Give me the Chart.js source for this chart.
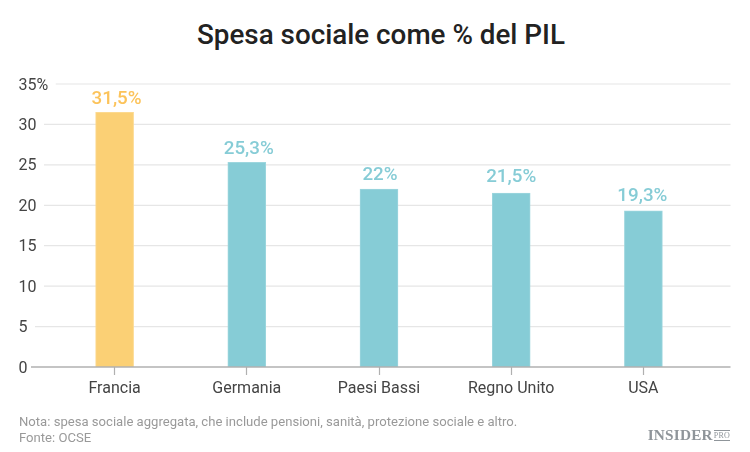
<!DOCTYPE html>
<html>
<head>
<meta charset="utf-8">
<script src="https://cdn.jsdelivr.net/npm/chart.js@4/dist/chart.umd.min.js"></script>
<style>
  html, body { margin: 0; padding: 0; background: #fff; }
  #wrap { position: relative; width: 750px; height: 452px; overflow: hidden; font-family: Roboto, sans-serif; }
  #wrap canvas { position: absolute; left: 0; top: 0; }
  #title { position: absolute; left: 12px; right: 0; top: 17px; text-align: center; font-size: 27.8px; font-weight: 500; line-height: 36px; color: #222; }
  #note { position: absolute; left: 19px; top: 413.5px; font-size: 13.1px; line-height: 16px; color: #999; }
  #logo { position: absolute; right: 20px; top: 426px; font-family: "Liberation Serif", serif; font-weight: 700; font-size: 15.3px; line-height: 18px; color: #8f959a; letter-spacing: 0.2px; }
  #logo span { font-size: 8px; font-weight: 400; border-top: 1px solid #8f959a; border-bottom: 1px solid #8f959a; margin-left: 1px; vertical-align: 2px; line-height: 9px; }
</style>
</head>
<body>
<div id="wrap">
  <div id="title">Spesa sociale come % del PIL</div>
  <canvas id="chart" width="750" height="452"></canvas>
  <div id="note">Nota: spesa sociale aggregata, che include pensioni, sanità, protezione sociale e altro.<br>Fonte: OCSE</div>
  <div id="logo">INSIDER<span>PRO</span></div>
</div>
<script>
const categories = ['Francia', 'Germania', 'Paesi Bassi', 'Regno Unito', 'USA']
const values = [31.5, 25.3, 22, 21.5, 19.3]
const valueLabels = ['31,5%', '25,3%', '22%', '21,5%', '19,3%']
const yTicks = [0, 5, 10, 15, 20, 25, 30, 35]
const barColors = ['#fbd075', '#86ccd6', '#86ccd6', '#86ccd6', '#86ccd6']
const barEdges = ['#fcd98f', '#9dd6de', '#9dd6de', '#9dd6de', '#9dd6de']
const labelColors = ['#fcc35a', '#86ccd6', '#86ccd6', '#86ccd6', '#86ccd6']

const tickFont = { family: 'Roboto', size: 16 }
const tickLabel = v => v === 35 ? '35%' : String(v)

// the value labels sit a bit unevenly over the bars in the original
const labelShiftX = [2, 2, 1, 0, -1]
const labelGap = [8, 8, 9, 11, 10]

// gridlines start right after each tick label, so they are drawn here
const gridPlugin = {
  id: 'grid',
  beforeDatasetsDraw(chart) {
    const { ctx, scales: { y }, chartArea } = chart
    ctx.save()
    ctx.font = '16px Roboto'
    ctx.strokeStyle = '#e6e6e6'
    ctx.lineWidth = 1.2
    yTicks.forEach(v => {
      if (v === 0) return
      const py = y.getPixelForValue(v)
      ctx.beginPath()
      ctx.moveTo(18 + ctx.measureText(tickLabel(v)).width + 8, py)
      ctx.lineTo(chartArea.right + 21, py)
      ctx.stroke()
    })
    ctx.restore()
  },
  afterDatasetsDraw(chart) {
    const { ctx, scales: { y }, chartArea } = chart
    const py = y.getPixelForValue(0)
    ctx.save()
    ctx.strokeStyle = '#b0b0b0'
    ctx.lineWidth = 1.6
    ctx.beginPath()
    ctx.moveTo(31, py)
    ctx.lineTo(chartArea.right + 21, py)
    ctx.stroke()

    ctx.font = '500 18.8px Roboto'
    ctx.textAlign = 'center'
    ctx.textBaseline = 'alphabetic'
    chart.getDatasetMeta(0).data.forEach((bar, i) => {
      ctx.fillStyle = labelColors[i]
      ctx.fillText(valueLabels[i], bar.x + labelShiftX[i], bar.y - labelGap[i])
    })
    ctx.restore()
  }
}

new Chart(document.getElementById('chart').getContext('2d'), {
  type: 'bar',
  data: {
    labels: categories,
    datasets: [{
      data: values,
      backgroundColor: barColors,
      borderColor: barEdges,
      borderWidth: 1,
      barThickness: 38
    }]
  },
  options: {
    responsive: false,
    animation: false,
    layout: { padding: { left: 18.5, right: 40.5, top: 84, bottom: 55 } },
    plugins: { legend: { display: false }, tooltip: { enabled: false } },
    scales: {
      x: {
        afterFit: s => { s.height = 30 },
        border: { display: false },
        grid: { display: true, drawOnChartArea: false, drawTicks: true, offset: false, tickLength: 8, color: '#b0b0b0', tickWidth: 1.2 },
        ticks: { font: tickFont, color: '#444', padding: 4, maxRotation: 0 }
      },
      y: {
        min: 0,
        max: 35,
        afterFit: s => { s.width = 30 },
        afterBuildTicks: s => { s.ticks = yTicks.map(v => ({ value: v })) },
        border: { display: false },
        grid: { display: false },
        ticks: { font: tickFont, color: '#444', crossAlign: 'far', padding: 0, labelOffset: 1.5, callback: tickLabel }
      }
    }
  },
  plugins: [gridPlugin]
})
</script>
</body>
</html>
